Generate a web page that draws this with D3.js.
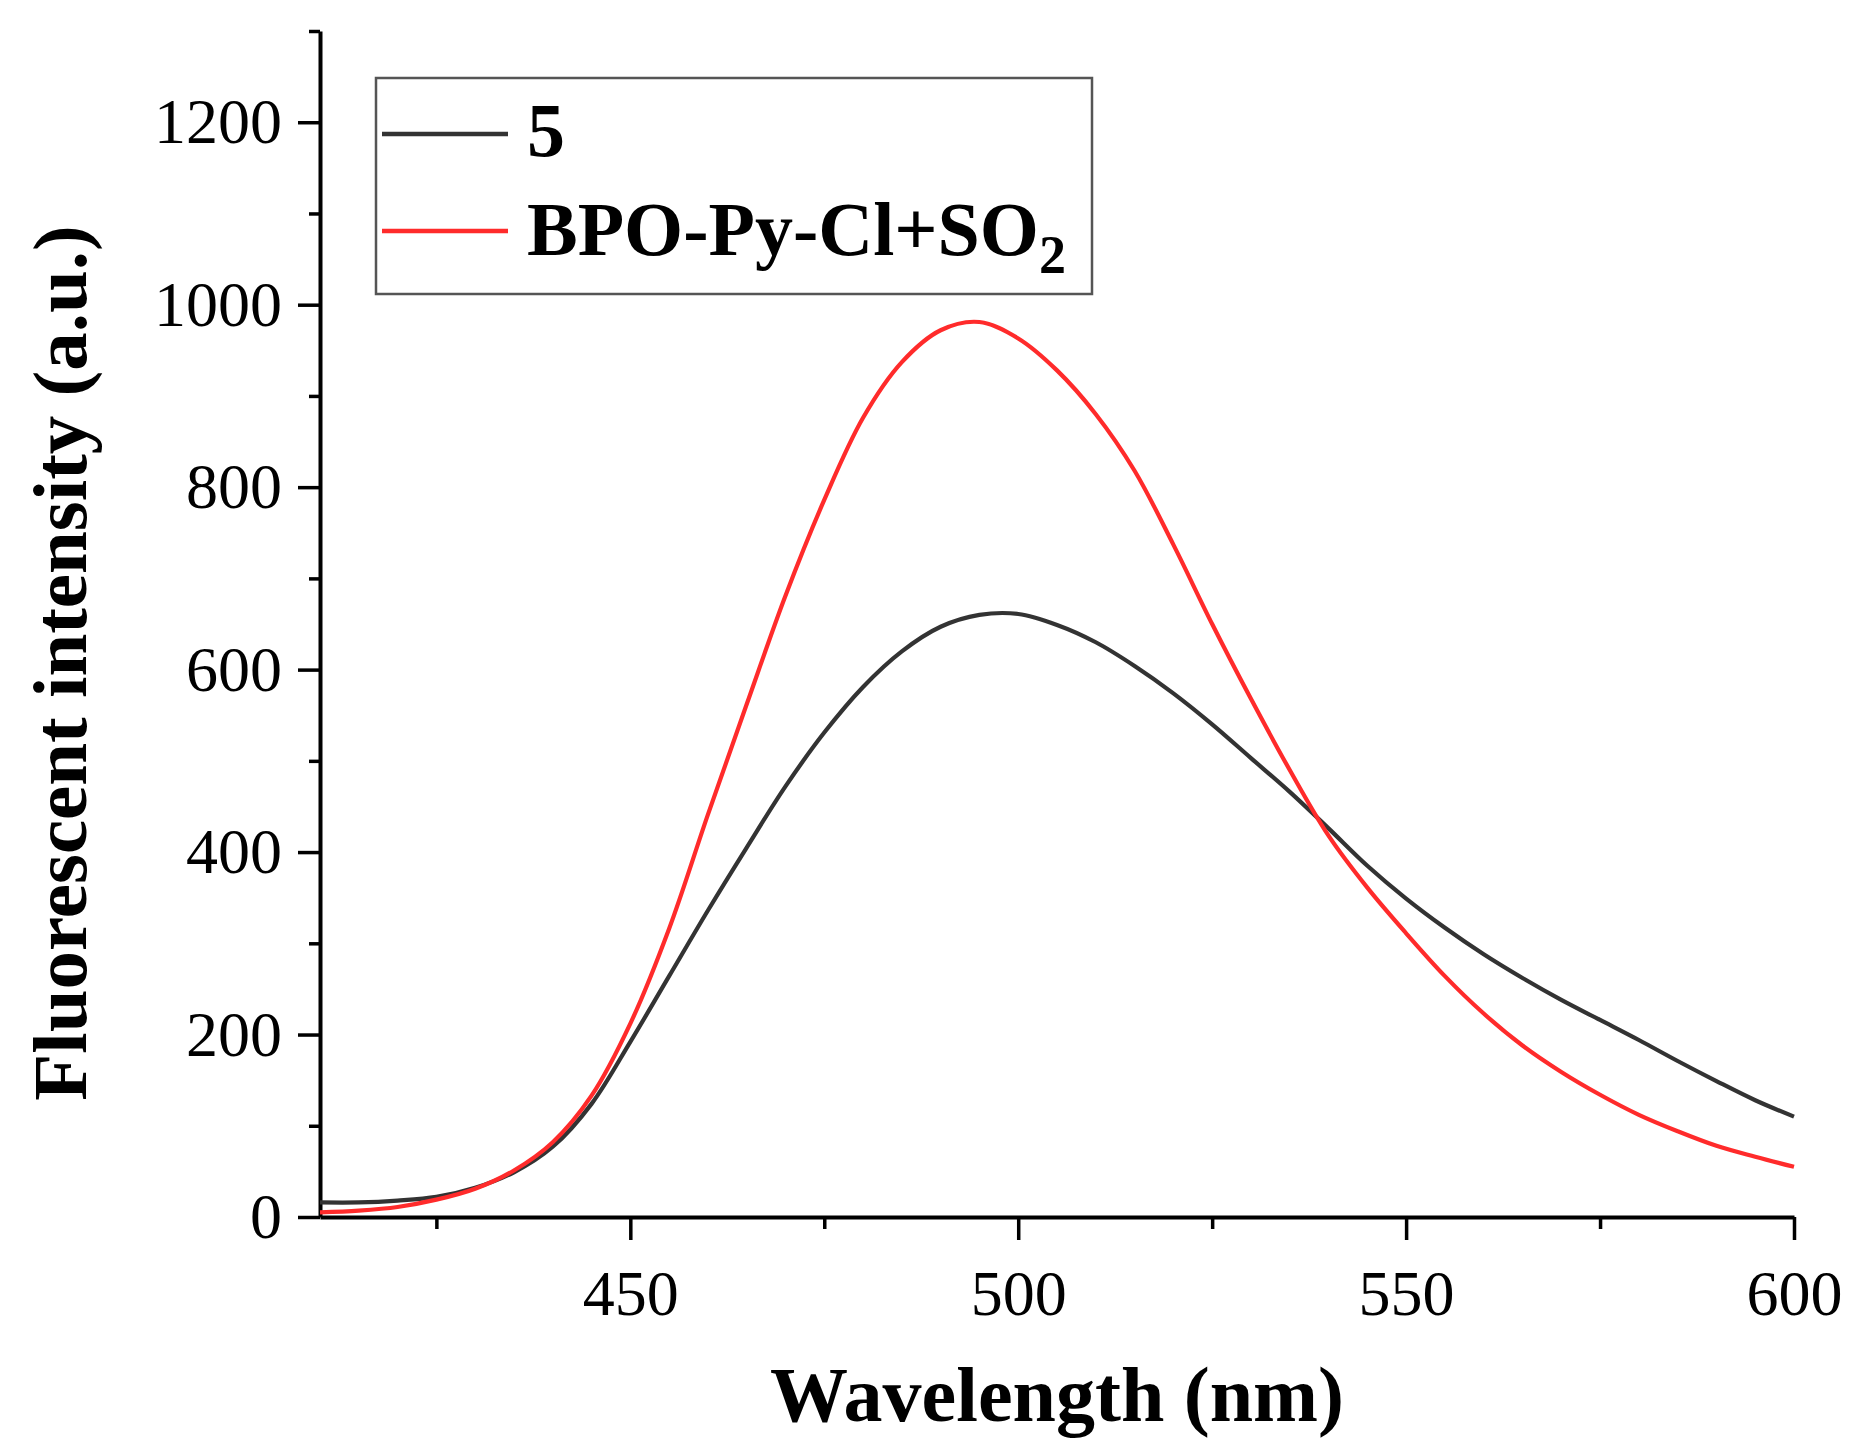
<!DOCTYPE html>
<html>
<head>
<meta charset="utf-8">
<script src="https://cdn.jsdelivr.net/npm/d3@7"></script>
<style>
  body { margin: 0; background: #fff; }
  text { font-family: "Liberation Serif", "Times New Roman", serif; fill: #000; }
</style>
</head>
<body>
<div id="chart"></div>
<script>
// wavelengths (nm) and intensities
var wavelength = [410, 415, 420, 425, 430, 435, 440, 445, 450, 455, 460, 465, 470, 475, 480, 485, 490, 495,
                  500, 505, 510, 515, 520, 525, 530, 535, 540, 545, 550, 555, 560, 565, 570, 575, 580, 585, 590, 595, 600];
var compound5 = [16, 16, 18, 22, 32, 49, 77, 124, 192, 264, 336, 405, 472, 531, 581, 620, 647, 660,
                 661, 649, 630, 604, 574, 540, 503, 466, 426, 385, 349, 317, 288, 262, 238, 216, 194, 171, 149, 128, 110];
var probeSO2 = [5, 7, 11, 19, 31, 51, 82, 133, 212, 316, 441, 562, 681, 786, 876, 937, 972, 981,
                963, 928, 880, 818, 737, 650, 568, 490, 418, 361, 311, 264, 223, 188, 159, 134, 112, 94, 78, 66, 55];

var xMajor = [450, 500, 550, 600];
var xMinor = [425, 475, 525, 575];
var yMajor = [0, 200, 400, 600, 800, 1000, 1200];
var yMinor = [100, 300, 500, 700, 900, 1100, 1300];

var seriesNames = ["5", "BPO-Py-Cl+SO2"];
var seriesColors = ["#333333", "#ff2b2b"];

var width = 1861, height = 1454;
var plotLeft = 320, plotRight = 1794, plotTop = 31, plotBottom = 1217;

var svg = d3.select("#chart")
  .append("svg")
  .attr("width", width).attr("height", height);

var x = d3.scaleLinear().domain([410, 600]).range([plotLeft, plotRight]);
var y = d3.scaleLinear().domain([0, 1300]).range([plotBottom, plotTop]);

// minor ticks first, then the main axes on top
svg.append("g")
  .attr("transform", "translate(0," + plotBottom + ")")
  .call(d3.axisBottom(x).tickValues(xMinor).tickSize(12).tickFormat(""))
  .call(g => g.select(".domain").remove());

svg.append("g")
  .attr("transform", "translate(" + plotLeft + ",0)")
  .call(d3.axisLeft(y).tickValues(yMinor).tickSize(11).tickFormat(""))
  .call(g => g.select(".domain").remove());

svg.append("g")
  .attr("transform", "translate(0," + plotBottom + ")")
  .call(d3.axisBottom(x).tickValues(xMajor).tickFormat(d3.format("d"))
    .tickSize(23).tickSizeOuter(0).tickPadding(30));

svg.append("g")
  .attr("transform", "translate(" + plotLeft + ",0)")
  .call(d3.axisLeft(y).tickValues(yMajor).tickFormat(d3.format("d"))
    .tickSize(22).tickSizeOuter(0).tickPadding(16));

svg.selectAll(".tick line").attr("stroke", "#000").attr("stroke-width", 3.5);
svg.selectAll(".domain").attr("stroke", "#000").attr("stroke-width", 4);
svg.selectAll(".tick text")
  .style("font-family", "'Liberation Serif', 'Times New Roman', serif")
  .style("font-size", "64px")
  .attr("fill", "#000");

// spectra
var line = d3.line()
  .x((d, i) => x(wavelength[i]))
  .y(d => y(d))
  .curve(d3.curveCatmullRom);

[compound5, probeSO2].forEach(function(s, k) {
  svg.append("path")
    .datum(s)
    .attr("d", line)
    .attr("fill", "none")
    .attr("stroke", seriesColors[k])
    .attr("stroke-width", 4.2);
});

// axis titles
svg.append("text")
  .attr("x", (plotLeft + plotRight) / 2).attr("y", 1421)
  .attr("text-anchor", "middle")
  .style("font-size", "78px").style("font-weight", "bold")
  .text("Wavelength (nm)");

svg.append("text")
  .attr("transform", "translate(86,663) rotate(-90)")
  .attr("text-anchor", "middle")
  .style("font-size", "77px").style("font-weight", "bold")
  .text("Fluorescent intensity (a.u.)");

// legend
var legend = svg.append("g");
legend.append("rect")
  .attr("x", 376).attr("y", 78)
  .attr("width", 716).attr("height", 216)
  .attr("fill", "none").attr("stroke", "#555").attr("stroke-width", 2.5);

var legendY = [134, 231];
seriesNames.forEach(function(name, k) {
  legend.append("line")
    .attr("x1", 382).attr("x2", 508)
    .attr("y1", legendY[k]).attr("y2", legendY[k])
    .attr("stroke", seriesColors[k]).attr("stroke-width", 4.5);
});

legend.append("text")
  .attr("x", 527).attr("y", 156)
  .style("font-size", "76px").style("font-weight", "bold")
  .text("5");

var lt = legend.append("text")
  .attr("x", 527).attr("y", 255)
  .style("font-size", "76px").style("font-weight", "bold");
lt.append("tspan").text("BPO-Py-Cl+SO");
lt.append("tspan").attr("dy", 18).style("font-size", "54px").text("2");
</script>
</body>
</html>
